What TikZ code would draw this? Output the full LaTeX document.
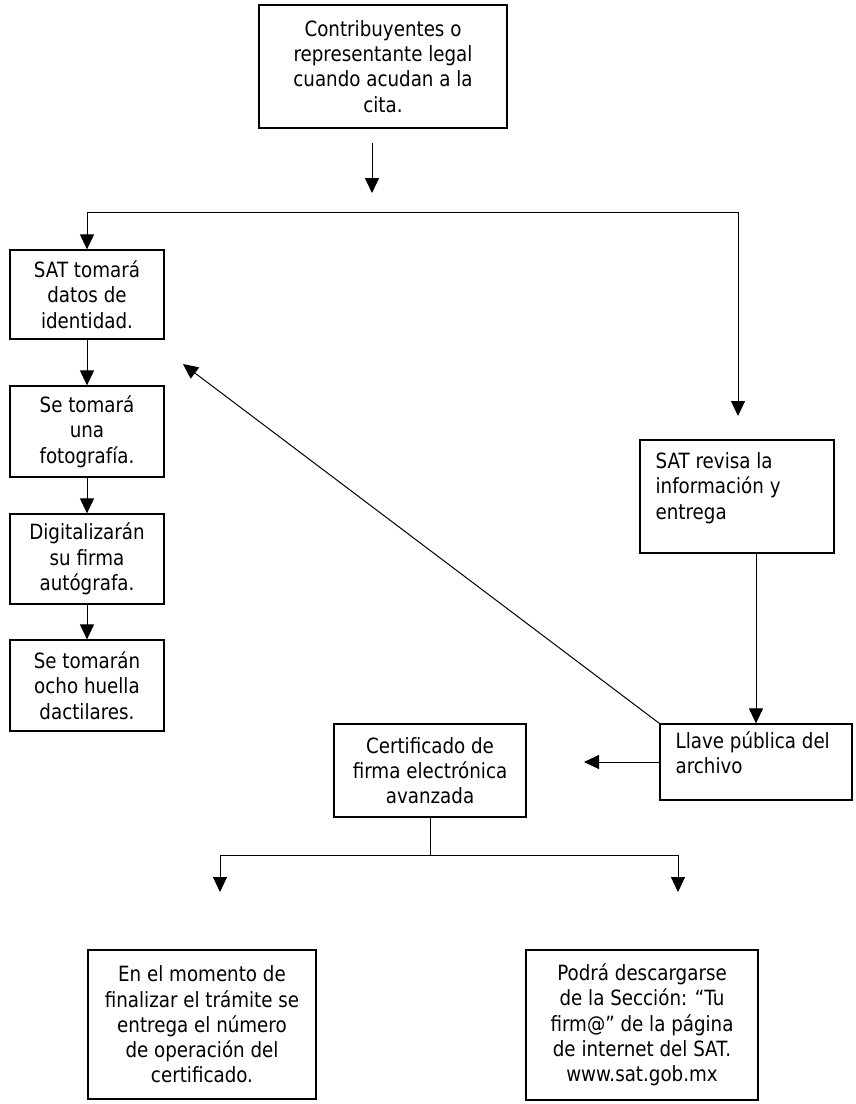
\documentclass[tikz,border=0pt]{standalone}
\usepackage{fontspec}
\setmainfont{DejaVu Sans}[FakeStretch=0.87]
\usetikzlibrary{arrows.meta}
\tikzset{
  box/.style={draw, line width=1.2pt, inner sep=0pt, align=center, font=\fontsize{21}{25.3}\selectfont},
  boxtext/.style={inner sep=0pt, align=left, anchor=north west, font=\fontsize{21}{25.3}\selectfont},
  conn/.style={line width=1pt},
  arr/.style={conn, -{Triangle[length=15pt,width=14pt]}},
}
\begin{document}
\begin{tikzpicture}[x=1pt,y=-1pt]
\useasboundingbox (0,0) rectangle (855,1104);
% boxes
\node[box, minimum width=248, minimum height=123] (top) at (383,66.5) {Contribuyentes o\\representante legal\\cuando acudan a la\\cita.};
\node[box, minimum width=154, minimum height=89] (b1) at (87,294.5) {SAT tomará\\datos de\\identidad.};
\node[box, minimum width=154, minimum height=91] (b2) at (87,431.5) {Se tomará\\una\\fotografía.};
\node[box, minimum width=154, minimum height=90] (b3) at (87,559) {Digitalizarán\\su firma\\autógrafa.};
\node[box, minimum width=154, minimum height=91] (b4) at (87,685.5) {Se tomarán\\ocho huella\\dactilares.};
\node[box, minimum width=194, minimum height=113] (rev) at (737,496.5) {};
\node[boxtext] (revt) at ([shift={(16,13)}]rev.north west) {SAT revisa la\\información y\\entrega};
\node[box, minimum width=192, minimum height=76] (llave) at (756,762) {};
\node[boxtext] (llavet) at ([shift={(16,8)}]llave.north west) {Llave pública del\\archivo};
\node[box, minimum width=192, minimum height=93] (cert) at (430,770.5) {Certificado de\\firma electrónica\\avanzada};
\node[box, minimum width=228, minimum height=149] (bl) at (202,1024.5) {En el momento de\\finalizar el trámite se\\entrega el número\\de operación del\\certificado.};
\node[box, minimum width=232, minimum height=150] (br) at (642,1025) {Podrá descargarse\\de la Sección: “Tu\\firm@” de la página\\de internet del SAT.\\www.sat.gob.mx};
% free coordinates
\coordinate (t1) at (372,143);
\coordinate (t2) at (372,193);
\coordinate (sL) at (87,212);
\coordinate (sR) at (738,212);
\coordinate (rtip) at (738,416);
\coordinate (dtip) at (183,364);
\coordinate (ctip) at (584,762);
\coordinate (cs) at (430,855);
\coordinate (cl) at (220,855);
\coordinate (cr) at (678,855);
\coordinate (cltip) at (220,892);
\coordinate (crtip) at (678,892);
% connectors
\draw[arr] (t1) -- (t2);
\draw[conn] (sL) -- (sR);
\draw[arr] (sL) -- (b1.north);
\draw[arr] (sR) -- (rtip);
\draw[arr] (b1.south) -- (b2.north);
\draw[arr] (b2.south) -- (b3.north);
\draw[arr] (b3.south) -- (b4.north);
\draw[arr] (rev.south -| llave.north) -- (llave.north);
\draw[arr] (llave.north west) -- (dtip);
\draw[arr] (llave.west) -- (ctip);
\draw[conn] (cert.south) -- (cs);
\draw[conn] (cl) -- (cr);
\draw[arr] (cl) -- (cltip);
\draw[arr] (cr) -- (crtip);
\end{tikzpicture}
\end{document}
